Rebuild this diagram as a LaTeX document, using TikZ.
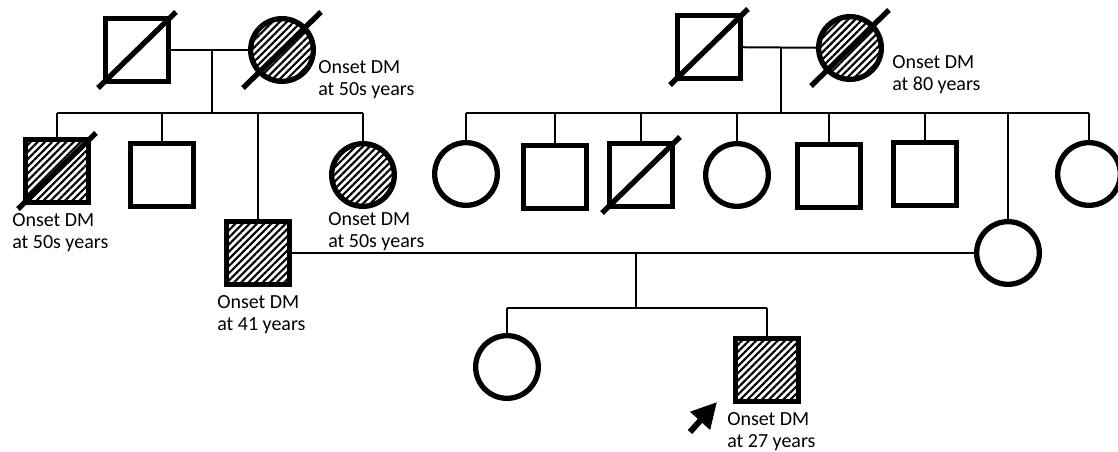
\documentclass[tikz,border=0pt]{standalone}
\usepackage{fontspec}
\setmainfont{Carlito}
\usetikzlibrary{arrows.meta,positioning,calc,patterns.meta}
\tikzset{
  font=\fontsize{15}{16.5}\selectfont,
  person/.style  ={draw, line width=4pt, minimum size=47pt, inner sep=0pt, fill=white},
  male/.style    ={person, rectangle},
  female/.style  ={person, circle},
  affected/.style={pattern={Lines[angle=45,distance=3.8pt,line width=1.6pt]}},
  slash/.style   ={line width=4pt},
  line/.style    ={line width=1.5pt},
  note/.style    ={align=left, inner sep=0pt, anchor=north west},
  arr/.style     ={line width=4.5pt, -{Triangle[length=19pt,width=19pt]}},
}

\begin{document}
\begin{tikzpicture}[x=0.75pt, y=-0.75pt]
  \useasboundingbox (0,0) rectangle (1118,452);

  % paternal grandparents and their children
  \node[male] (gf1) at (137,50) {};
  \node[female, affected] (gm1) at (282,50) {};
  \node[male, affected] (c1) at (57,171) {};
  \node[male] (c2) at (162,175) {};
  \node[male, affected] (c3) at (258,253) {};
  \node[female, affected] (c4) at (363,175) {};
  \coordinate (m1) at (212,50);
  \coordinate (s1) at (212,113);
  \draw[line] (gf1) -- (gm1);
  \draw[line] (m1) -- (s1);
  \draw[line] (c1 |- s1) -- (c4 |- s1);
  \foreach \n in {c1,c2,c3,c4}
    \draw[line] (\n |- s1) -- (\n);

  % maternal grandparents and their children
  \node[male] (gf2) at (709,47) {};
  \node[female, affected] (gm2) at (850,48) {};
  \node[female] (d1) at (466,174) {};
  \node[male] (d2) at (555,177) {};
  \node[male] (d3) at (641,175) {};
  \node[female] (d4) at (737,175) {};
  \node[male] (d5) at (829,176) {};
  \node[male] (d6) at (925,174) {};
  \node[female] (w) at (1008,253) {};
  \node[female] (d8) at (1089,174) {};
  \coordinate (m2) at (781,47);
  \coordinate (s2) at (781,113);
  \draw[line] (gf2) -- (gm2);
  \draw[line] (m2) -- (s2);
  \draw[line] (d1 |- s2) -- (d8 |- s2);
  \foreach \n in {d1,d2,d3,d4,d5,d6,w,d8}
    \draw[line] (\n |- s2) -- (\n);

  % parents and the proband's generation
  \node[female] (g1) at (507,367) {};
  \node[male, affected] (p) at (767,370) {};
  \coordinate (m3) at (636,253);
  \coordinate (s3) at (636,308);
  \draw[line] (c3) -- (w);
  \draw[line] (m3) -- (s3);
  \draw[line] (g1 |- s3) -- (p |- s3);
  \foreach \n in {g1,p}
    \draw[line] (\n |- s3) -- (\n);

  % deceased
  \foreach \n in {gf1,gm1,c1,gf2,gm2,d3}
    \draw[slash] ($(\n)+(-39,38)$) -- ($(\n)+(39,-38)$);

  % proband arrow
  \coordinate (pa) at (690,432);
  \draw[arr] (pa) -- ($(p.south west)+(-16,-2)$);

  % onset notes
  \node[note] (n1) at (318,60)  {Onset DM\\at 50s years};
  \node[note] (n2) at (892,55)  {Onset DM\\at 80 years};
  \node[note] (n3) at (12,213)  {Onset DM\\at 50s years};
  \node[note] (n4) at (328,212) {Onset DM\\at 50s years};
  \node[note] (n5) at (217,295) {Onset DM\\at 41 years};
  \node[note] (n6) at (727,412) {Onset DM\\at 27 years};
\end{tikzpicture}
\end{document}
